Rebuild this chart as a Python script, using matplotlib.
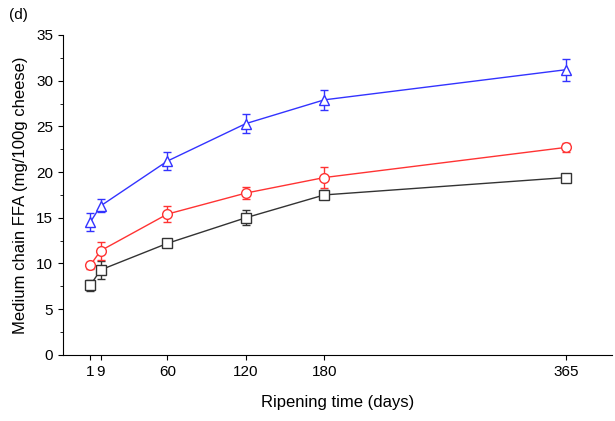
import matplotlib.pyplot as plt
from matplotlib.ticker import MultipleLocator

plt.rcParams['font.family'] = ['Liberation Sans', 'DejaVu Sans']

days = [1, 9, 60, 120, 180, 365]
tick_labels = ['1', '9', '60', '120', '180', '365']

blue_vals = [14.5, 16.3, 21.2, 25.3, 27.9, 31.2]
blue_err = [1.0, 0.7, 1.0, 1.0, 1.1, 1.2]
red_vals = [9.8, 11.4, 15.4, 17.7, 19.4, 22.7]
red_err = [0.4, 1.0, 0.9, 0.7, 1.1, 0.5]
black_vals = [7.6, 9.3, 12.2, 15.0, 17.5, 19.4]
black_err = [0.6, 1.0, 0.3, 0.8, 0.5, 0.4]

fig = plt.figure(figsize=(6.15, 4.21), dpi=100)
ax = fig.add_axes([0.102, 0.157, 0.893, 0.76])

series = [
    (black_vals, black_err, '#333333', 's'),
    (red_vals, red_err, '#ff3333', 'o'),
    (blue_vals, blue_err, '#3333ff', '^'),
]
for vals, err, col, mk in series:
    ax.errorbar(days, vals, yerr=err, color=col, marker=mk, markersize=7,
                markerfacecolor='white', markeredgecolor=col, markeredgewidth=1,
                linewidth=1, capsize=3, elinewidth=1, capthick=1)

ax.set_xlim(-20, 400)
ax.set_ylim(0, 35)
ax.set_xticks(days)
ax.set_xticklabels(tick_labels)
ax.yaxis.set_major_locator(MultipleLocator(5))
ax.yaxis.set_minor_locator(MultipleLocator(2.5))
ax.tick_params(direction='out', labelsize=11)
ax.spines['top'].set_visible(False)
ax.spines['right'].set_visible(False)
ax.set_xlabel('Ripening time (days)', fontsize=12, labelpad=12)
ax.set_ylabel('Medium chain FFA (mg/100g cheese)', fontsize=12, labelpad=6)
fig.text(0.015, 0.955, '(d)', fontsize=11)

fig.savefig('out.png', dpi=100)
